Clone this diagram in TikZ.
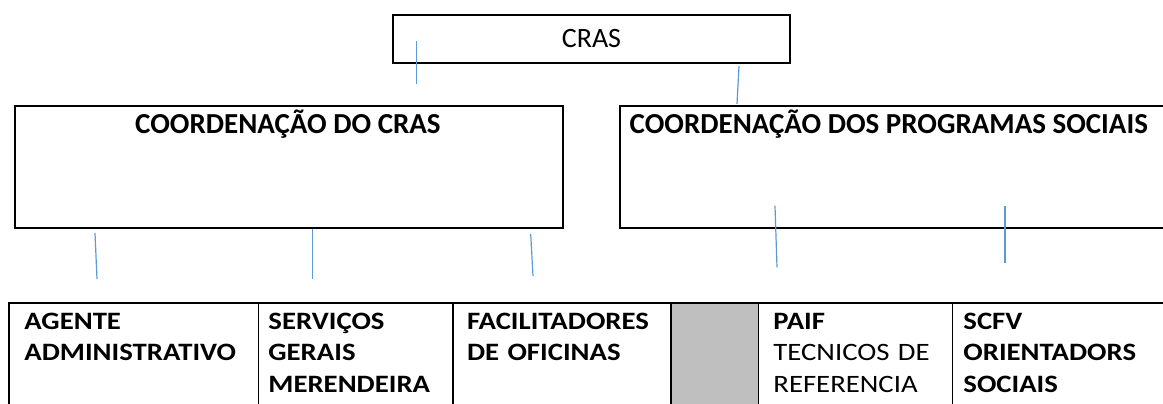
\documentclass[tikz,border=0pt]{standalone}
\usepackage{fontspec}
\setmainfont{Carlito}
\newfontfamily\cellfont{Carlito}[FakeStretch=1.15]
\definecolor{linkblue}{HTML}{5B9BD5}
\definecolor{cellgray}{HTML}{BFBFBF}

\begin{document}
\begin{tikzpicture}[x=0.5pt, y=-0.5pt,
	box/.style={draw, line width=1pt, anchor=north west, inner sep=0pt},
	cell/.style={draw, line width=0.8pt, anchor=north west, minimum height=65pt, inner sep=0pt},
	head/.style={font=\fontsize{14.5pt}{17pt}\selectfont\bfseries, inner sep=0pt},
	celltxt/.style={font=\cellfont\fontsize{12.5pt}{15.75pt}\selectfont\bfseries, anchor=base west, align=left, text width=120pt, inner sep=0pt},
	link/.style={draw=linkblue, line width=0.6pt}]
			 \useasboundingbox (0,0) rectangle (1163,403);
			 \node[box, minimum width=198.5pt, minimum height=24pt, font=\fontsize{14pt}{16pt}\selectfont] (cras)at(392,14) {CRAS};
			 \node[box, minimum width=274pt, minimum height=60.85pt] (ccras)at(14,105) {};
			 \node[head, anchor=base] (ccrastxt)at(288,133) {COORDENAÇÃO DO CRAS};
			 \node[box, minimum width=300pt, minimum height=60.85pt] (cprog)at(619,105) {};
			 \node[head, anchor=base west] (cprogtxt)at(629.3,133) {COORDENAÇÃO DOS PROGRAMAS SOCIAIS};
			 \node[cell, minimum width=124.85pt] (agente)at(8,302) {};
			 \node[cell, minimum width=97.3pt] (servicos)at(257.7,302) {};
			 \node[cell, minimum width=108.85pt] (facil)at(452.3,302) {};
			 \node[cell, fill=cellgray, minimum width=43.85pt] (vazio)at(670,302) {};
			 \node[cell, minimum width=97pt] (paif)at(757.7,302) {};
			 \node[cell, minimum width=130pt] (scfv)at(951.7,302) {};
			 \node[celltxt] (agentetxt)at(24,329) {AGENTE\\ADMINISTRATIVO};
			 \node[celltxt] (servicostxt)at(268,329) {SERVIÇOS\\GERAIS\\MERENDEIRA};
			 \node[celltxt] (faciltxt)at(466.7,329) {FACILITADORES\\DE OFICINAS};
			 \node[celltxt] (paiftxt)at(773,329) {PAIF\\\mdseries TECNICOS DE\\REFERENCIA};
			 \node[celltxt] (scfvtxt)at(963,329) {SCFV\\ORIENTADORS\\SOCIAIS};
			 \coordinate (l1a) at (416.7,41);
			 \coordinate (l1b) at (416.7,84);
			 \coordinate (l2a) at (739,66);
			 \coordinate (l2b) at (737,104);
			 \coordinate (l3a) at (95,233);
			 \coordinate (l3b) at (97,279);
			 \coordinate (l4a) at (312.7,229);
			 \coordinate (l4b) at (312.7,279);
			 \coordinate (l5a) at (530.7,234);
			 \coordinate (l5b) at (533,276);
			 \coordinate (l6a) at (775,205.7);
			 \coordinate (l6b) at (777,267.3);
			 \coordinate (l7a) at (1005,205.7);
			 \coordinate (l7b) at (1005,263.3);
			 \draw[link] (l1a) -- (l1b);
			 \draw[link] (l2a) -- (l2b);
			 \draw[link] (l3a) -- (l3b);
			 \draw[link] (l4a) -- (l4b);
			 \draw[link] (l5a) -- (l5b);
			 \draw[link] (l6a) -- (l6b);
			 \draw[link] (l7a) -- (l7b);
		\end{tikzpicture}
\end{document}
